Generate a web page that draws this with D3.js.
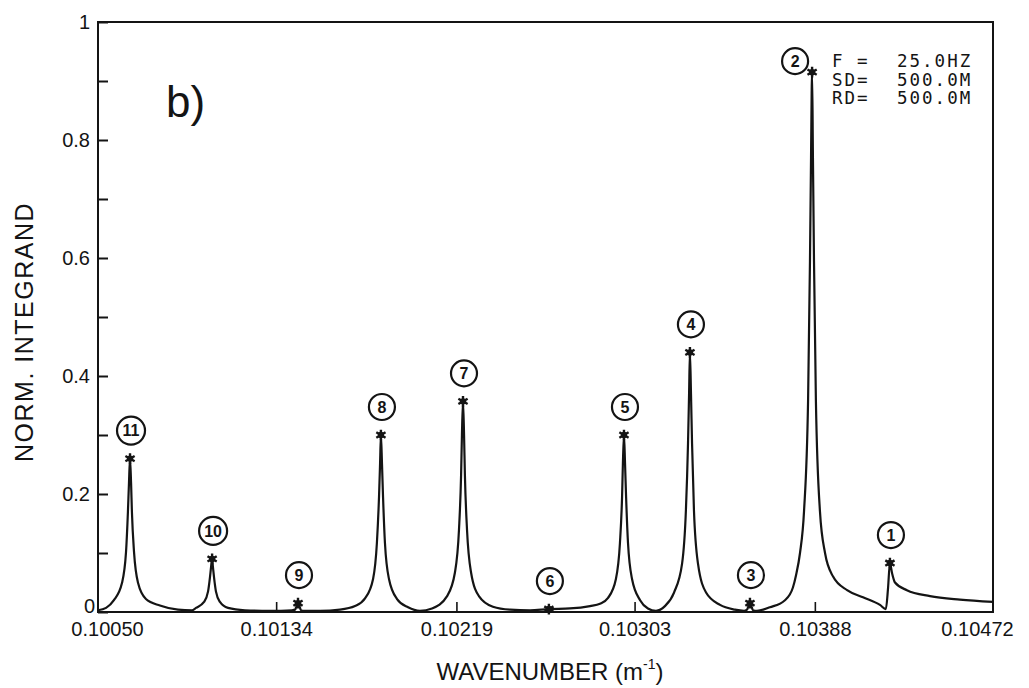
<!DOCTYPE html>
<html>
<head>
<meta charset="utf-8">
<script src="https://cdn.jsdelivr.net/npm/d3@7"></script>
<style>
  html, body { margin: 0; padding: 0; background: #ffffff; }
  svg { display: block; }
</style>
</head>
<body>
<svg id="chart" width="1029" height="688"></svg>
<script>
// ---- data -------------------------------------------------------------
const xDomain = [0.10050, 0.10472];
const yDomain = [0, 1];
const xTickValues = [0.10050, 0.10134, 0.10219, 0.10303, 0.10388, 0.10472];
const xTickLabels = ["0.10050", "0.10134", "0.10219", "0.10303", "0.10388", "0.10472"];
const yTickValues = [0, 0.1, 0.2, 0.3, 0.4, 0.5, 0.6, 0.7, 0.8, 0.9, 1];
const yTickLabels = ["0", "", "0.2", "", "0.4", "", "0.6", "", "0.8", "", "1"];

// normalized integrand vs. horizontal wavenumber [k (1/m), value]
const integrand = [
  [0.100500, 0.003], [0.100538, 0.007], [0.100575, 0.020], [0.100613, 0.049],
  [0.100632, 0.101], [0.100641, 0.169], [0.100646, 0.218], [0.100651, 0.260],
  [0.100656, 0.218], [0.100660, 0.169], [0.100670, 0.101], [0.100689, 0.049],
  [0.100726, 0.022], [0.100792, 0.011], [0.100877, 0.004], [0.100943, 0.003],
  [0.100962, 0.007], [0.101000, 0.017], [0.101019, 0.035], [0.101028, 0.059],
  [0.101033, 0.076], [0.101038, 0.090], [0.101042, 0.076], [0.101047, 0.059],
  [0.101056, 0.035], [0.101075, 0.017], [0.101113, 0.007], [0.101193, 0.003],
  [0.101311, 0.002], [0.101415, 0.003], [0.101429, 0.004], [0.101436, 0.010],
  [0.101443, 0.015], [0.101450, 0.010], [0.101457, 0.003], [0.101471, 0.002],
  [0.101547, 0.002], [0.101641, 0.004], [0.101712, 0.010], [0.101759, 0.023],
  [0.101797, 0.056], [0.101815, 0.117], [0.101825, 0.195], [0.101830, 0.252],
  [0.101834, 0.300], [0.101839, 0.252], [0.101844, 0.195], [0.101853, 0.117],
  [0.101872, 0.056], [0.101910, 0.022], [0.101962, 0.008], [0.102018, 0.002],
  [0.102075, 0.006], [0.102146, 0.027], [0.102183, 0.067], [0.102202, 0.139],
  [0.102212, 0.232], [0.102216, 0.300], [0.102221, 0.357], [0.102226, 0.300],
  [0.102230, 0.232], [0.102240, 0.139], [0.102259, 0.067], [0.102296, 0.027],
  [0.102362, 0.009], [0.102443, 0.004], [0.102537, 0.003], [0.102626, 0.005],
  [0.102725, 0.006], [0.102820, 0.010], [0.102867, 0.014], [0.102905, 0.024],
  [0.102942, 0.056], [0.102961, 0.117], [0.102971, 0.195], [0.102975, 0.252],
  [0.102980, 0.300], [0.102985, 0.252], [0.102990, 0.195], [0.102999, 0.117],
  [0.103018, 0.056], [0.103056, 0.020], [0.103093, 0.006], [0.103131, 0.002],
  [0.103173, 0.010], [0.103216, 0.033], [0.103254, 0.082], [0.103272, 0.172],
  [0.103282, 0.286], [0.103287, 0.370], [0.103291, 0.440], [0.103296, 0.370],
  [0.103301, 0.286], [0.103310, 0.172], [0.103329, 0.082], [0.103367, 0.033],
  [0.103433, 0.012], [0.103503, 0.004], [0.103546, 0.002], [0.103560, 0.004],
  [0.103567, 0.010], [0.103574, 0.015], [0.103581, 0.010], [0.103588, 0.003],
  [0.103607, 0.002], [0.103668, 0.008], [0.103739, 0.020], [0.103777, 0.042],
  [0.103791, 0.062], [0.103810, 0.100], [0.103829, 0.171], [0.103848, 0.357],
  [0.103857, 0.595], [0.103862, 0.770], [0.103867, 0.915], [0.103871, 0.770],
  [0.103876, 0.595], [0.103885, 0.357], [0.103904, 0.171], [0.103928, 0.100],
  [0.103966, 0.060], [0.104032, 0.037], [0.104107, 0.025], [0.104187, 0.012],
  [0.104215, 0.005], [0.104225, 0.040], [0.104234, 0.083], [0.104244, 0.066],
  [0.104258, 0.050], [0.104314, 0.037], [0.104423, 0.027], [0.104564, 0.021],
  [0.104720, 0.017]
];

// normal-mode poles marked on the curve
const modeNumbers     = [11, 10, 9, 8, 7, 6, 5, 4, 3, 2, 1];
const modeWavenumbers = [0.100651, 0.101038, 0.101443, 0.101834, 0.102221, 0.102626,
                         0.102980, 0.103291, 0.103574, 0.103867, 0.104234];
const modePeaks       = [0.260, 0.090, 0.015, 0.300, 0.357, 0.005,
                         0.300, 0.440, 0.015, 0.915, 0.083];

// run parameters
const runInfoKeys   = ["F =", "SD=", "RD="];
const runInfoValues = ["25.0HZ", "500.0M", "500.0M"];
const panelLabel = "b)";
const xTitle = "WAVENUMBER (m";
const yTitle = "NORM. INTEGRAND";

// ---- layout -----------------------------------------------------------
const svg = d3.select("#chart");
const plot = { left: 98, right: 993, top: 22, bottom: 612 };
const ink = "#141414";
const sans = "'Liberation Sans', Arial, Helvetica, sans-serif";
const mono = "'DejaVu Sans Mono', 'Liberation Mono', monospace";

const x = d3.scaleLinear().domain(xDomain).range([plot.left, plot.right]);
const y = d3.scaleLinear().domain(yDomain).range([plot.bottom, plot.top]);

// frame
svg.append("rect")
  .attr("x", plot.left).attr("y", plot.top)
  .attr("width", plot.right - plot.left).attr("height", plot.bottom - plot.top)
  .attr("fill", "none").attr("stroke", ink).attr("stroke-width", 2);

// y axis, ticks pointing inward
const yAxis = d3.axisLeft(y)
  .tickValues(yTickValues)
  .tickFormat((d, i) => yTickLabels[i])
  .tickSizeInner(-10).tickSizeOuter(0).tickPadding(8);
const gy = svg.append("g").attr("transform", `translate(${plot.left},0)`).call(yAxis);
gy.select(".domain").remove();
gy.selectAll(".tick line").attr("stroke", ink).attr("stroke-width", 2);
gy.selectAll(".tick text")
  .attr("fill", ink).attr("font-family", sans).attr("font-size", 20);
gy.selectAll(".tick text").filter(d => d === 0).attr("x", -3).attr("dy", "0.02em");

// x axis, ticks pointing inward
const xAxis = d3.axisBottom(x)
  .tickValues(xTickValues)
  .tickFormat((d, i) => xTickLabels[i])
  .tickSizeInner(-10).tickSizeOuter(0).tickPadding(10);
const gx = svg.append("g").attr("transform", `translate(0,${plot.bottom})`).call(xAxis);
gx.select(".domain").remove();
gx.selectAll(".tick line").attr("stroke", ink).attr("stroke-width", 1.6);
gx.selectAll(".tick line").filter((d, i) => i === 0 || i === xTickValues.length - 1).remove();
gx.selectAll(".tick text")
  .attr("fill", ink).attr("font-family", sans).attr("font-size", 20);
gx.selectAll(".tick text").filter((d, i) => i === 0).attr("dx", 9);
gx.selectAll(".tick text").filter((d, i) => i === xTickValues.length - 1).attr("dx", -16);

// integrand curve
const line = d3.line()
  .x(d => x(d[0]))
  .y(d => y(d[1]))
  .curve(d3.curveMonotoneX);
svg.append("path")
  .datum(integrand)
  .attr("d", line)
  .attr("fill", "none")
  .attr("stroke", ink)
  .attr("stroke-width", 2.2)
  .attr("stroke-linejoin", "round");

// mode markers and circled mode numbers
const modes = modeNumbers.map((n, i) => ({ n, k: modeWavenumbers[i], v: modePeaks[i] }));
const starType = d3.symbolAsterisk || d3.symbolCross;
const mg = svg.append("g").selectAll("g").data(modes).join("g")
  .attr("transform", d => `translate(${x(d.k)},${y(d.v)})`);
mg.append("path")
  .attr("d", d3.symbol().type(starType).size(80))
  .attr("fill", "none").attr("stroke", ink).attr("stroke-width", 2.4);
mg.append("circle").attr("r", 3.2).attr("fill", ink);

const tag = mg.append("g")
  .attr("transform", d => d.n === 2 ? "translate(-17,-11)" : "translate(1,-28)");
tag.append("circle")
  .attr("r", d => d.n >= 10 ? 14 : 13)
  .attr("fill", "#ffffff").attr("stroke", ink).attr("stroke-width", 2.2);
tag.append("text")
  .attr("text-anchor", "middle").attr("dy", "0.36em")
  .attr("font-family", sans).attr("font-weight", "bold").attr("font-size", 16)
  .attr("fill", ink)
  .text(d => d.n);

// run parameter block
const info = svg.append("g")
  .attr("font-family", mono).attr("font-size", 17.5).attr("letter-spacing", 2)
  .attr("fill", ink);
runInfoKeys.forEach((k, i) => {
  info.append("text").attr("x", 832).attr("y", 67 + i * 18.5).text(k);
  info.append("text").attr("x", 897).attr("y", 67 + i * 18.5).text(runInfoValues[i]);
});

// panel label
svg.append("text")
  .attr("x", 166).attr("y", 117)
  .attr("font-family", sans).attr("font-size", 44).attr("fill", ink)
  .text(panelLabel);

// axis titles
const xt = svg.append("text")
  .attr("x", 550).attr("y", 680)
  .attr("text-anchor", "middle")
  .attr("font-family", sans).attr("font-size", 24).attr("fill", ink)
  .text(xTitle);
xt.append("tspan").attr("font-size", 14).attr("dy", -11).text("-1");
xt.append("tspan").attr("dy", 11).text(")");

svg.append("text")
  .attr("transform", "translate(33,332) rotate(-90)")
  .attr("text-anchor", "middle")
  .attr("font-family", sans).attr("font-size", 25).attr("fill", ink)
  .attr("letter-spacing", 1.5)
  .text(yTitle);
</script>
</body>
</html>
